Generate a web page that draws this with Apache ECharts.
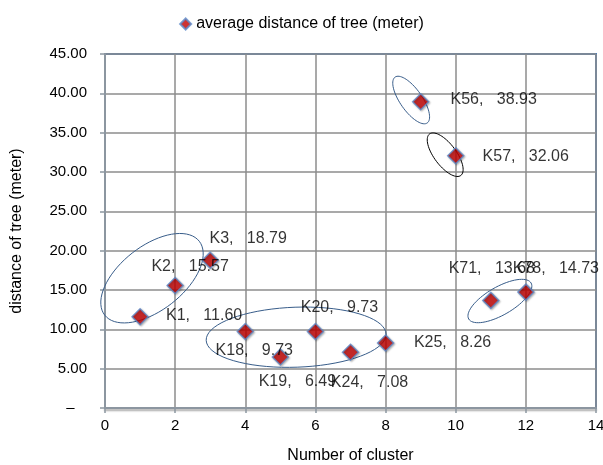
<!DOCTYPE html>
<html>
<head>
<meta charset="utf-8">
<script src="https://cdn.jsdelivr.net/npm/echarts@6/dist/echarts.min.js"></script>
<style>html,body{margin:0;padding:0;background:#fff}#c{width:603px;height:465px}</style>
</head>
<body>
<div id="c"></div>
<script>
// ---- data ----
const clusterNames = ['K1','K2','K3','K18','K19','K20','K24','K25','K56','K57','K71','K78'];
const clusterX = [1,2,3,4,5,6,7,8,9,10,11,12];
const avgDistance = [11.60,15.57,18.79,9.73,6.49,9.73,7.08,8.26,38.93,32.06,13.68,14.73];
const yTickValues = [0,5,10,15,20,25,30,35,40,45];
const xTickValues = [0,2,4,6,8,10,12,14];
const seriesName = 'average distance of tree (meter)';

// ---- annotation layout (label offsets in px, ellipses: data centre + px radii) ----
const labelOffsets = [[64,-1],[15,-19],[38,-22],[9,19],[17,25],[24,-24],[19,30],[67,0],[73,-2],[70,1],[1,-32],[30,-24]];
const rings = [
  {c:[1.34,16.5], a:60, b:32, ang:-38, color:'#385d8a'},
  {c:[5.45,9.0], a:90, b:30, ang:-2, color:'#385d8a'},
  {c:[8.73,39.15], a:28, b:11, ang:55, color:'#385d8a'},
  {c:[9.7,32.2], a:26, b:11, ang:53, color:'#000000'},
  {c:[11.26,13.6], a:36, b:14, ang:-30, color:'#385d8a'}
];

const font = 'Liberation Sans, Arial, sans-serif';
const chart = echarts.init(document.getElementById('c'));

const points = clusterX.map((x,i)=>({
  value:[x, avgDistance[i]],
  name: clusterNames[i]
}));

chart.setOption({
  animation:false,
  legend:{
    top:11, left:'center',
    icon:'diamond', itemWidth:11, itemHeight:11, itemGap:2,
    textStyle:{fontFamily:font, fontSize:16, color:'#000'},
    data:[seriesName]
  },
  grid:{left:105, right:7, top:54, bottom:57, outerBoundsMode:'none', containLabel:false,
    show:true, borderColor:'#4a7ebb', borderWidth:2, backgroundColor:'#fff'},
  xAxis:{
    type:'value', min:0, max:14, interval:2,
    name:'Number of cluster', nameLocation:'middle', nameGap:40,
    nameTextStyle:{fontFamily:font, fontSize:16, color:'#000'},
    axisLine:{show:true, onZero:false, lineStyle:{color:'#8c96a0', width:2, shadowColor:'rgba(0,0,0,0.35)', shadowOffsetY:2, shadowBlur:2}},
    axisTick:{show:true, length:5, lineStyle:{color:'#8c96a0', width:1.5}},
    axisLabel:{fontFamily:font, fontSize:15, color:'#000', margin:10},
    splitLine:{show:true, lineStyle:{color:'#8c8c8c', width:1.5}}
  },
  yAxis:{
    type:'value', min:0, max:45, interval:5,
    name:'distance of tree (meter)', nameLocation:'middle', nameGap:80, nameRotate:90,
    nameTextStyle:{fontFamily:font, fontSize:16, color:'#000'},
    axisLine:{show:true, lineStyle:{color:'#8c96a0', width:2}},
    axisTick:{show:true, length:5, lineStyle:{color:'#8c96a0', width:1.5}},
    axisLabel:{fontFamily:font, fontSize:15, color:'#000', margin:18,
      formatter:v=> v===0 ? '–   ' : v.toFixed(2)},
    splitLine:{show:true, lineStyle:{color:'#8c8c8c', width:1.5}}
  },
  series:[
    {
      type:'custom', silent:true, z:1,
      data: rings.map(r=>[r.c[0], r.c[1]]),
      renderItem:(params, api)=>{
        const r = rings[params.dataIndex];
        const p = api.coord([api.value(0), api.value(1)]);
        const t = r.ang*Math.PI/180, pts=[];
        for(let k=0;k<=72;k++){
          const u = k/72*2*Math.PI;
          const ex = r.a*Math.cos(u), ey = r.b*Math.sin(u);
          pts.push([p[0]+ex*Math.cos(t)-ey*Math.sin(t), p[1]+ex*Math.sin(t)+ey*Math.cos(t)]);
        }
        return {type:'polyline', shape:{points:pts}, style:{stroke:r.color, lineWidth:1, fill:null}};
      }
    },
    {
      name:seriesName, type:'scatter', z:3,
      symbol:'diamond', symbolSize:16,
      itemStyle:{color:'#c00000', borderColor:'#5b8ac9', borderWidth:1.5, shadowColor:'rgba(0,0,0,0.3)', shadowBlur:2, shadowOffsetX:1, shadowOffsetY:1},
      label:{show:true, position:'inside', fontFamily:font, fontSize:16, color:'#000',
        formatter:p=> p.name + ',   ' + p.value[1].toFixed(2)},
      labelLayout:(params)=>({dx: labelOffsets[params.dataIndex][0], dy: labelOffsets[params.dataIndex][1], hideOverlap:false}),
      data:points
    }
  ]
});
</script>
</body>
</html>
